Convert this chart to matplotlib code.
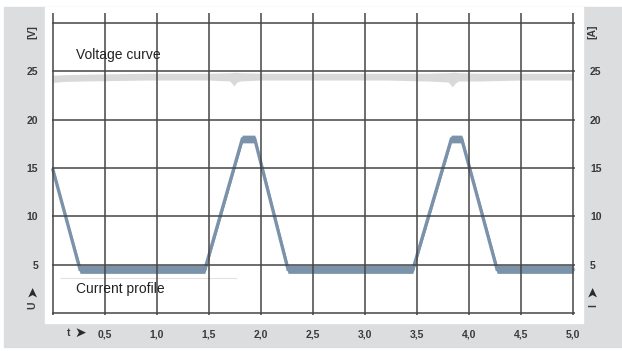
import matplotlib
matplotlib.use("Agg")
import matplotlib.pyplot as plt
from matplotlib.patches import Rectangle

# current profile (t in s, I in A)
cur_t = [0.0, 0.26, 1.46, 1.82, 1.94, 2.26, 3.46, 3.83, 3.93, 4.27, 5.0]
cur_mid = [14.8, 4.5, 4.5, 18.0, 18.0, 4.5, 4.5, 18.0, 18.0, 4.5, 4.5]
cur_lo = [14.6, 4.1, 4.1, 17.6, 17.6, 4.1, 4.1, 17.6, 17.6, 4.1, 4.1]
cur_hi = [15.0, 4.95, 4.95, 18.4, 18.4, 4.95, 4.95, 18.4, 18.4, 4.95, 4.95]

# voltage curve band (U in V)
u_t = [0.0, 0.1, 0.3, 0.6, 0.9, 1.2, 1.5, 1.7, 1.74, 1.77, 1.8, 2.0, 2.4, 2.8, 3.2, 3.6, 3.8, 3.84, 3.87, 3.9, 4.1, 4.5, 5.0]
u_hi = [24.6, 24.65, 24.7, 24.75, 24.8, 24.8, 24.8, 24.85, 24.9, 24.9, 24.85, 24.8, 24.8, 24.8, 24.8, 24.8, 24.85, 24.9, 24.9, 24.85, 24.8, 24.8, 24.8]
u_lo = [23.85, 23.95, 24.0, 24.05, 24.1, 24.1, 24.1, 24.0, 23.5, 23.9, 24.0, 24.1, 24.1, 24.1, 24.1, 24.0, 23.9, 23.4, 23.8, 24.0, 24.0, 24.1, 24.1]

x_ticks = [0.5, 1.0, 1.5, 2.0, 2.5, 3.0, 3.5, 4.0, 4.5, 5.0]
x_labels = ['0,5', '1,0', '1,5', '2,0', '2,5', '3,0', '3,5', '4,0', '4,5', '5,0']
y_ticks = [5, 10, 15, 20, 25]
x_grid = [0.0] + x_ticks
y_grid = [0, 5, 10, 15, 20, 25, 30]

fam = ['Liberation Sans', 'DejaVu Sans']
W, H = 622, 351
fig = plt.figure(figsize=(W / 100, H / 100), dpi=100)

# gray frame + white plot panel (pixel coords -> figure fraction)
fig.patches.append(Rectangle((4 / W, (H - 347) / H), (W - 4) / W, 340 / H,
                             transform=fig.transFigure, color='#dcdddf', zorder=-10))
fig.patches.append(Rectangle((45 / W, (H - 323) / H), 538 / W, 316 / H,
                             transform=fig.transFigure, color='white', zorder=-9))

ax = fig.add_axes([45 / W, (H - 323) / H, 538 / W, 316 / H])
ax.set_zorder(5)
ax.set_facecolor('none')
ax.set_xlim(-8 / 104, 5 + 10 / 104)
ax.set_ylim(-10 / 9.667, 30 + 16 / 9.667)
for s in ax.spines.values():
    s.set_visible(False)

# curves
ax.fill_between(u_t, u_lo, u_hi, color='#d9d9d9', lw=0, zorder=1)
ax.fill_between(cur_t, cur_lo, cur_hi, color='#7a92aa', lw=0, zorder=2)
ax.plot(cur_t, cur_mid, color='#7a92aa', lw=2.4, zorder=2, solid_joinstyle='miter')

# thin separator under the label
ax.hlines(3.6, 0.07, 1.77, color='#e2e2e2', lw=0.8, zorder=1)

# grid
ax.vlines(x_grid, -0.25, 31.0, color='#454545', lw=1.1, zorder=3)
ax.hlines(y_grid, -0.01, 5.02, color='#454545', lw=1.1, zorder=3)

# ticks
ax.set_xticks(x_ticks)
ax.set_xticklabels(x_labels)
ax.set_yticks(y_ticks)
ax.set_yticklabels([str(v) for v in y_ticks])
ax.tick_params(axis='x', length=0, pad=5)
ax.tick_params(axis='y', length=0, pad=5, labelright=True)
for lab in ax.get_xticklabels() + ax.get_yticklabels():
    lab.set_fontfamily(fam)
    lab.set_fontsize(7.5)
    lab.set_fontweight('bold')
    lab.set_color('#3a3a3a')

tk = dict(fontsize=7.5, fontweight='bold', color='#3a3a3a', family=fam, clip_on=False)
ar = dict(fontsize=10, color='#2a2a2a', family=['DejaVu Sans'], clip_on=False)
ax.text(-0.2, 29.1, '[V]', rotation=90, ha='center', va='center', **tk)
ax.text(5.19, 29.1, '[A]', rotation=90, ha='center', va='center', **tk)
ax.text(-0.2, 0.8, 'U', rotation=90, ha='center', va='center', **tk)
ax.text(-0.2, 2.3, '\u27a4', rotation=90, ha='center', va='center', **ar)
ax.text(5.19, 0.8, 'I', rotation=90, ha='center', va='center', **tk)
ax.text(5.19, 2.3, '\u27a4', rotation=90, ha='center', va='center', **ar)
ax.text(0.17, -2.1, 't', ha='right', va='center', **tk)
ax.text(0.21, -2.1, '\u27a4', ha='left', va='center', **ar)

# curve labels
ax.text(0.22, 26.7, 'Voltage curve', ha='left', va='center', fontsize=10,
        color='#222222', family=fam)
ax.text(0.22, 2.5, 'Current profile', ha='left', va='center', fontsize=10,
        color='#222222', family=fam)

fig.savefig('out.png', dpi=100)
